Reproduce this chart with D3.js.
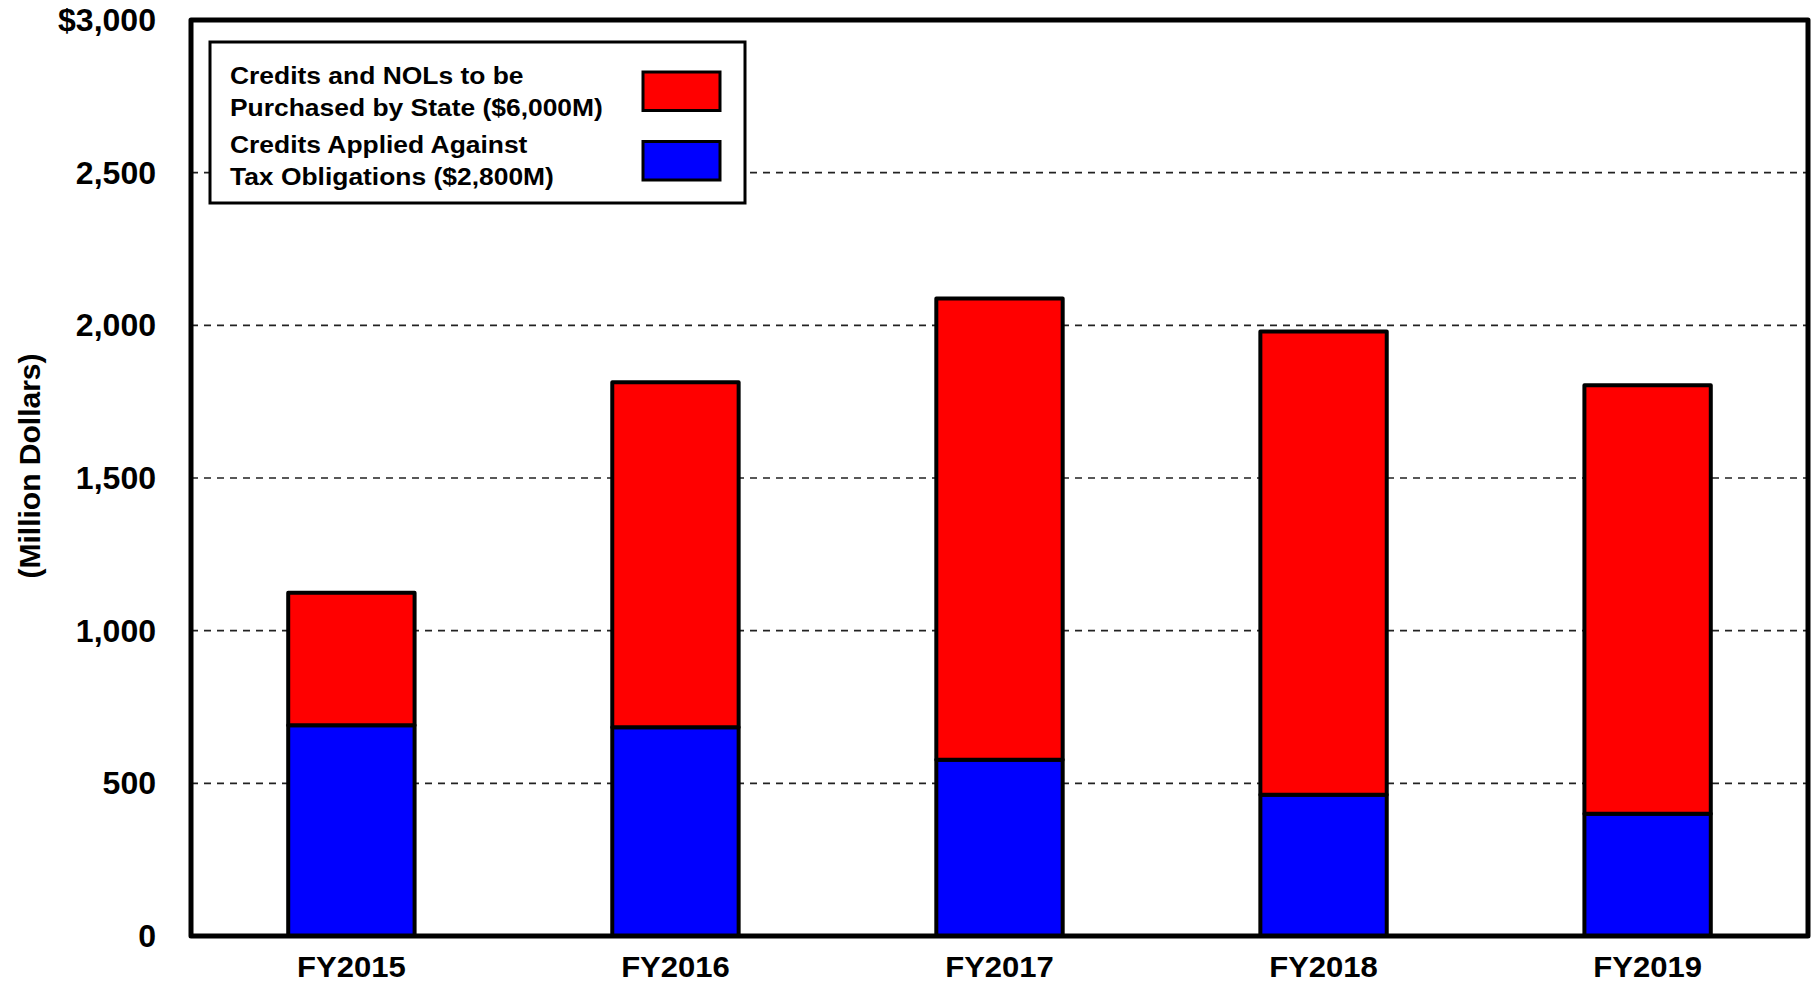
<!DOCTYPE html>
<html>
<head>
<meta charset="utf-8">
<script src="https://cdn.jsdelivr.net/npm/d3@7"></script>
<style>
  html, body { margin: 0; padding: 0; background: #fff; }
  svg { display: block; font-family: Arial, "Liberation Sans", sans-serif; font-weight: bold; }
</style>
</head>
<body>
<div id="chart"></div>
<script>
// values (million dollars)
const years = ["FY2015", "FY2016", "FY2017", "FY2018", "FY2019"];
const applied = [690, 684, 577, 463, 400];      // credits applied against tax obligations
const purchased = [434, 1130, 1511, 1517, 1404]; // credits and NOLs purchased by state
const yTicks = [0, 500, 1000, 1500, 2000, 2500, 3000];
const legendLabels = [
  ["Credits and NOLs to be", "Purchased by State ($6,000M)"],
  ["Credits Applied Against", "Tax Obligations ($2,800M)"]
];
const colors = ["#ff0000", "#0000ff"];

const width = 1820, height = 982;
const mLeft = 191, mRight = 1808, mTop = 20, mBottom = 936;
const stretch = 1.07; // the original text is a bit wide

const data = years.map((y, i) => ({ year: y, applied: applied[i], purchased: purchased[i] }));
const series = d3.stack().keys(["applied", "purchased"])(data);

const x = d3.scaleBand().domain(years).range([mLeft, mRight])
    .paddingInner(0.61).paddingOuter(0.3);
const y = d3.scaleLinear().domain([0, 3000]).range([mBottom, mTop]);

const svg = d3.select("#chart").append("svg")
    .attr("width", width)
    .attr("height", height);

// dashed grid
svg.append("g")
    .selectAll("line")
    .data(yTicks.filter(d => d > 0 && d < 3000))
    .join("line")
    .attr("x1", mLeft).attr("x2", mRight)
    .attr("y1", d => y(d)).attr("y2", d => y(d))
    .attr("stroke", "#222")
    .attr("stroke-width", 1.6)
    .attr("stroke-dasharray", "7,6");

// y tick labels
svg.append("g")
    .selectAll("text")
    .data(yTicks)
    .join("text")
    .attr("transform", d => `translate(156,${y(d)}) scale(1.05,1)`)
    .attr("dy", "0.36em")
    .attr("text-anchor", "end")
    .attr("font-size", 30.5)
    .text(d => d === 3000 ? "$" + d3.format(",")(d) : d3.format(",")(d));

// y axis title
svg.append("text")
    .attr("transform", `translate(40,466) rotate(-90)`)
    .attr("text-anchor", "middle")
    .attr("font-size", 30)
    .text("(Million Dollars)");

// bars
series.forEach((s, k) => {
  svg.append("g")
      .selectAll("rect")
      .data(s)
      .join("rect")
      .attr("x", d => x(d.data.year))
      .attr("width", x.bandwidth())
      .attr("y", d => y(d[1]))
      .attr("height", d => y(d[0]) - y(d[1]))
      .attr("fill", k === 0 ? colors[1] : colors[0])
      .attr("stroke", "#000")
      .attr("stroke-width", 4)
      .attr("stroke-linejoin", "round");
});

// x labels
svg.append("g")
    .selectAll("text")
    .data(years)
    .join("text")
    .attr("transform", d => `translate(${x(d) + x.bandwidth() / 2},977) scale(${stretch},1)`)
    .attr("text-anchor", "middle")
    .attr("font-size", 29)
    .text(d => d);

// plot frame
svg.append("rect")
    .attr("x", mLeft).attr("y", mTop)
    .attr("width", mRight - mLeft).attr("height", mBottom - mTop)
    .attr("fill", "none")
    .attr("stroke", "#000")
    .attr("stroke-width", 5)
    .attr("stroke-linejoin", "round");

// legend
const legend = svg.append("g");
legend.append("rect")
    .attr("x", 210).attr("y", 42)
    .attr("width", 535).attr("height", 161)
    .attr("fill", "#fff")
    .attr("stroke", "#000")
    .attr("stroke-width", 3);

legendLabels.forEach((lines, i) => {
  const baseY = 84 + i * 69;
  lines.forEach((t, j) => {
    legend.append("text")
        .attr("transform", `translate(230,${baseY + j * 32}) scale(${stretch},1)`)
        .attr("font-size", 24.7)
        .text(t);
  });
  legend.append("rect")
      .attr("x", 643).attr("y", 72 + i * 69.5)
      .attr("width", 77).attr("height", 38.5)
      .attr("fill", colors[i])
      .attr("stroke", "#000")
      .attr("stroke-width", 3);
});
</script>
</body>
</html>
